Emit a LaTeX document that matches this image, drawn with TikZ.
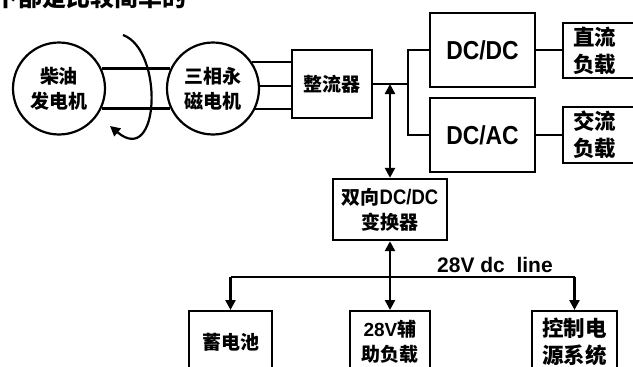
\documentclass[tikz,border=0pt]{standalone}
\usepackage{fontspec}
\usetikzlibrary{arrows.meta}
\setmainfont{Liberation Sans}
\newfontfamily\cjk{Noto Sans CJK SC}
\newfontfamily\lat{Liberation Sans}
\newfontfamily\nar[FakeStretch=0.88]{Liberation Sans}
\begin{document}
\begin{tikzpicture}[x=1pt,y=-1pt,
  every node/.style={font=\cjk\bfseries\fontsize{19}{25}\selectfont},
  box/.style={draw, line width=2.4pt, inner sep=0pt, align=center},
  disc/.style={draw, circle, line width=2.2pt, minimum size=92pt, inner sep=0pt, align=center},
  wire/.style={line width=2.4pt},
  tipend/.style={-{Triangle[length=10pt,width=10pt]}},
  tipboth/.style={{Triangle[length=10pt,width=10pt]}-{Triangle[length=10pt,width=10pt]}},
  big/.style={font=\cjk\bfseries\fontsize{21.5}{27}\selectfont},
  dcfont/.style={font=\nar\bfseries\fontsize{26}{26}\selectfont}
]
\useasboundingbox (0,0) rectangle (633,367);
\clip (0,0) rectangle (633,367);

% cut-off text line at the top
\node[anchor=base west, inner sep=0pt, font=\cjk\bfseries\fontsize{24}{24}\selectfont] (toptext) at (-6,6) {下部是比较简单的};

% machines
\node[disc] (gen) at (59,88.5) {柴油\\发电机};
\node[disc] (pm) at (213,88.5) {三相永\\磁电机};

% rectifier and converters
\node[box, minimum width=80pt, minimum height=68pt] (rect) at (332,84) {整流器};
\node[box, dcfont, minimum width=105pt, minimum height=74pt] (dcdc) at (482.5,50) {DC/DC};
\node[box, dcfont, minimum width=105pt, minimum height=74pt] (dcac) at (482.5,135) {DC/AC};
\node[box, big, minimum height=55pt, text width=56pt, inner xsep=10pt, align=left] (dcl) at (601,50.5) {直流\\负载};
\node[box, big, minimum height=56pt, text width=56pt, inner xsep=10pt, align=left] (acl) at (601,135) {交流\\负载};

% bidirectional converter
\node[box, minimum width=114pt, minimum height=61pt] (bi) at (390,209.5) {双向{\nar\fontsize{21}{25}\selectfont DC/DC}\\变换器};

% bottom loads
\node[box, anchor=north, minimum width=83pt, minimum height=62pt] (bat) at (230.5,310) {蓄电池};
\node[box, anchor=north, minimum width=80pt, minimum height=62pt] (aux) at (390,310) {{\lat 28V}辅\\助负载};
\node[box, big, anchor=north, minimum width=85pt, minimum height=62pt] (ctl) at (574.5,310) {控制电\\源系统};

% shaft lines between machines
\draw[wire] (gen.25) -- (pm.155);
\draw[wire] (gen.-25) -- (pm.-155);

% three-phase lines
\draw[wire] (pm.34) -- (pm.34 -| rect.west);
\draw[wire] (pm.3) -- (pm.3 -| rect.west);
\draw[wire] (pm.-26) -- (pm.-26 -| rect.west);

% rotation arrow
\draw[line width=2.2pt, tipend] (123,35) .. controls (164,50) and (160,168) .. (110,126);

% rectifier to converters
\coordinate (j) at (408,84);
\draw[wire] (rect.east) -- (j);
\draw[wire] (dcdc.west) -| (j) |- (dcac.west);
\draw[wire] (dcdc.east) -- (dcdc.east -| dcl.west);
\draw[wire] (dcac.east) -- (dcac.east -| acl.west);

% DC bus to bidirectional converter
\coordinate (t) at (390,84);
\draw[wire, tipboth] (t) -- (bi.north);

% 28V line
\coordinate (bl) at (bat.north |- 0,277);
\coordinate (br) at (ctl.north |- 0,277);
\draw[wire] (bl) -- (br);
\draw[wire, tipend] (bl) -- (bat.north);
\draw[wire, tipend] (br) -- (ctl.north);
\draw[wire, tipboth] (bi.south) -- (aux.north);
\node[anchor=base west, inner sep=0pt, font=\lat\bfseries\fontsize{21}{21}\selectfont] (lbl) at (437,272) {28V dc\ \ line};
\end{tikzpicture}
\end{document}
